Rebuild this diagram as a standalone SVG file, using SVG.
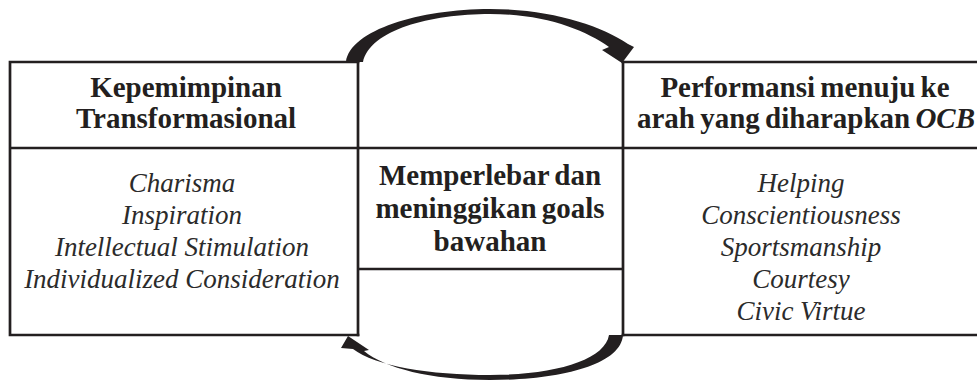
<svg xmlns="http://www.w3.org/2000/svg" width="977" height="381" viewBox="0 0 977 381">
<style>
.ln{stroke:#231f20;stroke-width:2.7;fill:none;stroke-linecap:square}
.hd{font-family:"Liberation Serif","Times New Roman",serif;font-weight:bold;font-size:29px;fill:#231f20;text-anchor:middle;word-spacing:-2px}
.it{font-family:"Liberation Serif","Times New Roman",serif;font-style:italic;font-size:27px;fill:#2b2b2b;text-anchor:middle}
.ar{fill:#231f20;stroke:none}
</style>
<rect width="977" height="381" fill="#fff"/>
<g id="left-box">
<path class="ln" d="M358 62 H10 V335 H358 M10 148 H358"/>
<text class="hd" x="186" y="97">Kepemimpinan</text>
<text class="hd" x="186" y="128">Transformasional</text>
<text class="it" x="182" y="192">Charisma</text>
<text class="it" x="182" y="224">Inspiration</text>
<text class="it" x="182" y="256">Intellectual Stimulation</text>
<text class="it" x="182" y="288">Individualized Consideration</text>
</g>
<g id="middle-box">
<path class="ln" d="M358 62 V335 M623 62 V335 M358 148 H623 M358 269 H623"/>
<text class="hd" x="490" y="185">Memperlebar dan</text>
<text class="hd" x="490" y="218">meninggikan goals</text>
<text class="hd" x="490" y="251">bawahan</text>
</g>
<g id="right-box">
<path class="ln" d="M623 62 H977 M623 148 H977 M623 335 H977"/>
<text class="hd" x="805" y="97">Performansi menuju ke</text>
<text class="hd" x="806" y="128">arah yang diharapkan <tspan font-style="italic">OCB</tspan></text>
<text class="it" x="801" y="192">Helping</text>
<text class="it" x="801" y="224">Conscientiousness</text>
<text class="it" x="801" y="256">Sportsmanship</text>
<text class="it" x="801" y="288">Courtesy</text>
<text class="it" x="801" y="320">Civic Virtue</text>
</g>
<g id="connectors">
<path class="ar" d="M346 62 C350 30 420 9 490 9 C550 9 600 25 628 44 L634 47 L622 63 L602 50 L609 47 C585 30 545 14 490 14 C430 14 370 30 363 62 Z"/>
<path class="ar" d="M623 335 C621 365 560 380 490 380 C430 380 385 368 364 351 L369 350 L348 336 L341 348 L353 349 C375 366 430 375 490 375 C555 375 605 360 609 335 Z"/>
</g>
</svg>
